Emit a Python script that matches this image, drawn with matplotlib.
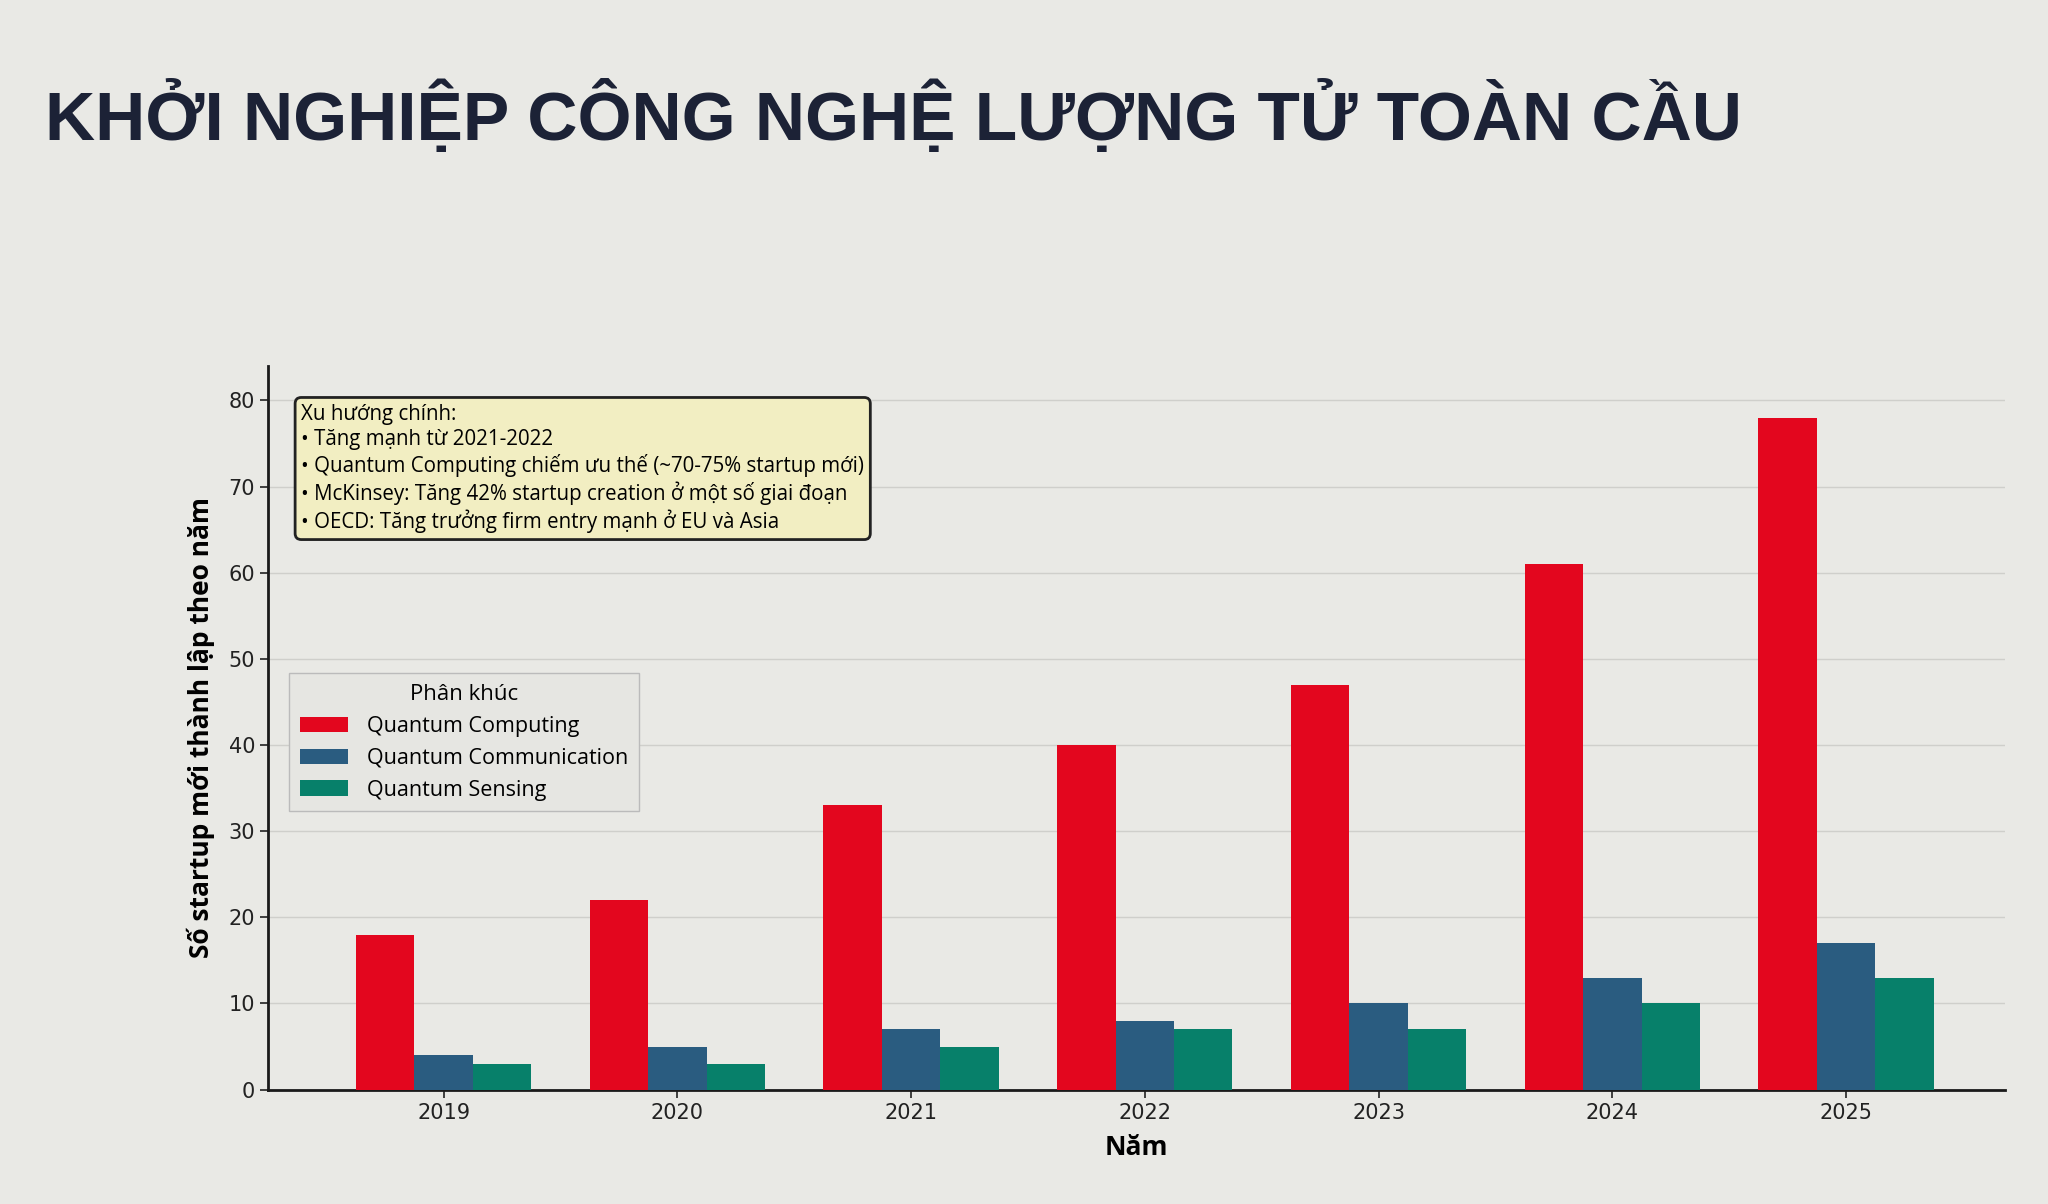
import matplotlib.pyplot as plt
import numpy as np

years = ["2019", "2020", "2021", "2022", "2023", "2024", "2025"]
computing = [18, 22, 33, 40, 47, 61, 78]
communication = [4, 5, 7, 8, 10, 13, 17]
sensing = [3, 3, 5, 7, 7, 10, 13]
series_names = ["Quantum Computing", "Quantum Communication", "Quantum Sensing"]
colors = ["#e3061e", "#2a5c80", "#07806a"]

note_lines = [
    "Xu hướng chính:",
    "• Tăng mạnh từ 2021-2022",
    "• Quantum Computing chiếm ưu thế (~70-75% startup mới)",
    "• McKinsey: Tăng 42% startup creation ở một số giai đoạn",
    "• OECD: Tăng trưởng firm entry mạnh ở EU và Asia",
]

bg = "#e9e9e5"
txt_font = ["Open Sans", "DejaVu Sans"]

fig = plt.figure(figsize=(20.48, 12.04), dpi=100, facecolor=bg)
ax = fig.add_axes([0.131, 0.095, 0.848, 0.601], facecolor=bg)

x = np.arange(len(years))
w = 0.25
for i, vals in enumerate([computing, communication, sensing]):
    ax.bar(x + (i - 1) * w, vals, width=w, color=colors[i], label=series_names[i], zorder=3)

ax.set_xlim(-0.75, 6.68)
ax.set_ylim(0, 84)
ax.set_yticks(range(0, 81, 10))
ax.set_xticks(x)
ax.set_xticklabels(years)
ax.tick_params(axis="both", labelsize=15, length=6, width=1.2, colors="#222222")
ax.grid(axis="y", color="#cfcfcb", linewidth=1, zorder=0)
for s in ["top", "right"]:
    ax.spines[s].set_visible(False)
for s in ["left", "bottom"]:
    ax.spines[s].set_linewidth(2)
    ax.spines[s].set_color("#1a1a1a")

ax.set_xlabel("Năm", fontsize=19, fontweight="bold", family=txt_font, labelpad=8)
ax.set_ylabel("Số startup mới thành lập theo năm", fontsize=19, fontweight="bold",
              family=txt_font, labelpad=10)

ax.text(0.019, 0.948, "\n".join(note_lines), transform=ax.transAxes, va="top", ha="left",
        fontsize=14.8, family=txt_font, linespacing=1.25, zorder=5,
        bbox=dict(boxstyle="round,pad=0.3", facecolor="#f2eec2", edgecolor="#222222", linewidth=2))

leg = ax.legend(loc="upper left", bbox_to_anchor=(0.006, 0.59), title="Phân khúc",
                prop={"family": txt_font, "size": 15.5}, title_fontproperties={"family": txt_font, "size": 16},
                facecolor="#e6e6e2", edgecolor="#bbbbbb", framealpha=1, fancybox=False,
                handlelength=2.2, handletextpad=0.9, borderpad=0.5)

fig.text(0.022, 0.884, "KHỞI NGHIỆP CÔNG NGHỆ LƯỢNG TỬ TOÀN CẦU", fontsize=50,
         fontweight="bold", family=["Liberation Sans", "DejaVu Sans"], color="#1c2236", va="baseline")

fig.savefig("out.png", dpi=100, facecolor=bg)
